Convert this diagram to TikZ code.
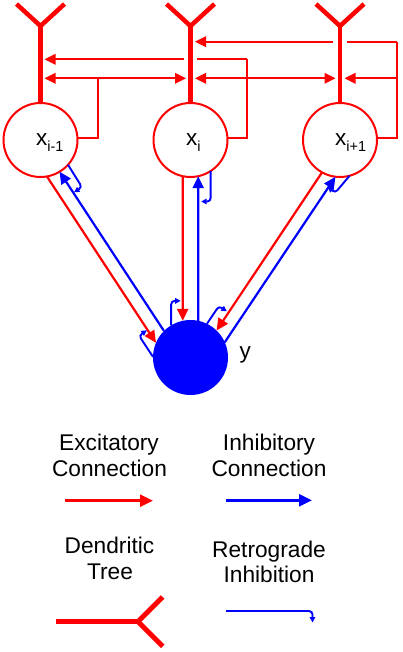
\documentclass[tikz,border=0pt]{standalone}
\usepackage{fontspec}
\setmainfont{Liberation Sans}
\usetikzlibrary{arrows.meta}
\tikzset{
  neuron/.style={circle, draw=red, line width=2pt, minimum size=74pt, inner sep=0pt, outer sep=0pt},
  ynode/.style={circle, fill=blue, minimum size=75pt, inner sep=0pt, outer sep=0pt},
  dendrite/.style={red, line width=4.5pt},
  fb/.style={red, line width=2pt},
  fbarrow/.style={fb, -{Triangle[length=11pt,width=10.5pt]}},
  exc/.style={red, line width=2.2pt, -{Triangle[length=12pt,width=11pt]}},
  inh/.style={blue, line width=2.2pt, -{Triangle[length=12pt,width=11pt]}},
  legexc/.style={red, line width=2.6pt, -{Triangle[length=13pt,width=12pt]}},
  leginh/.style={blue, line width=2.6pt, -{Triangle[length=13pt,width=12pt]}},
  retro/.style={blue, line width=1.9pt, -{Triangle[length=5.5pt,width=5.5pt]}},
  lbl/.style={font=\fontsize{22.7}{26}\selectfont, inner sep=0pt, anchor=base},
  nlbl/.style={font=\fontsize{22.5}{22}\selectfont, inner sep=0pt, anchor=base west},
}
\newcommand{\nsub}[1]{\raisebox{-6pt}{\fontsize{14.5}{14}\selectfont #1}}
\begin{document}
\begin{tikzpicture}[x=1pt,y=1pt]
\useasboundingbox (0,0) rectangle (402,-652);

% neurons
\node[neuron] (xa) at (40.5,-140) {};
\node[neuron] (xb) at (190.5,-140) {};
\node[neuron] (xc) at (340,-140) {};
\node[ynode] (y) at (190.5,-357.5) {};

\node[nlbl] (la) at (36,-146) {x\nsub{i-1}};
\node[nlbl] (lb) at (186,-146) {x\nsub{i}};
\node[nlbl] (lc) at (335,-146) {x\nsub{i+1}};
\node[nlbl] (ly) at (239.5,-358) {y};

% feedback coordinates
\coordinate (ja) at (98.3,-78.3);
\coordinate (jb) at (246.7,-59.3);
\coordinate (kb) at (246.7,-78.3);
\coordinate (jc) at (397.3,-41.7);
\coordinate (kc) at (397.3,-78.3);
\coordinate (aB) at (44.5,-59.3);
\coordinate (aC) at (44.5,-78.3);
\coordinate (bA) at (195,-41.7);
\coordinate (bCl) at (186,-78.3);
\coordinate (bCr) at (195,-78.3);
\coordinate (cCl) at (335.5,-78.3);
\coordinate (cCr) at (344.5,-78.3);
\coordinate (gb1) at (197,-59.3);
\coordinate (gb2) at (183.5,-59.3);
\coordinate (gc1) at (346.7,-41.7);
\coordinate (gc2) at (333.3,-41.7);

% x_{i-1} feedback
\draw[fb] (xa.3) -| (ja);
\draw[fbarrow] (ja) -- (aC);
\draw[fbarrow] (ja) -- (bCl);
% x_i feedback
\draw[fb] (xb.3) -| (jb);
\draw[fb] (jb) -- (gb1);
\draw[fbarrow] (gb2) -- (aB);
\draw[fbarrow] (kb) -- (bCr);
\draw[fbarrow] (kb) -- (cCl);
% x_{i+1} feedback
\draw[fb] (xc.3) -| (jc);
\draw[fb] (jc) -- (gc1);
\draw[fbarrow] (gc2) -- (bA);
\draw[fbarrow] (kc) -- (cCr);

% dendritic trees
\coordinate (fa) at (40.5,-26);
\coordinate (fb) at (190.5,-26);
\coordinate (fc) at (340,-26);
\draw[dendrite] (xa.north) -- (fa);
\draw[dendrite] (xb.north) -- (fb);
\draw[dendrite] (xc.north) -- (fc);
\draw[dendrite] (16.5,-4) -- (fa) -- (64.5,-4);
\draw[dendrite] (166.5,-4) -- (fb) -- (214.5,-4);
\draw[dendrite] (316,-4) -- (fc) -- (364,-4);

% connections to/from y
\draw[exc] (xa.-80.5) -- (y.157.8);
\draw[inh] (y.135) -- (xa.-59.6);
\draw[exc] (xb.-102.8) -- (y.102.6);
\draw[inh] (y.78.5) -- (xb.-78.3);
\draw[exc] (xc.-119.2) -- (y.46.4);
\draw[inh] (y.24.6) -- (xc.-97.5);

% retrograde inhibition hooks
\draw[retro] (xa.-42) -- ++(-58:23pt) arc[start angle=32, delta angle=-90, radius=3.5pt] -- ++(-148:6pt);
\draw[retro] (xb.-57) -- ++(-90:27pt) arc[start angle=0, delta angle=-90, radius=3.5pt] -- ++(180:6pt);
\draw[retro] (xc.-75) -- ++(-130:19pt) arc[start angle=-40, delta angle=-90, radius=3.5pt] -- ++(140:6pt);
\draw[retro] (y.179) -- ++(123.4:22pt) arc[start angle=213.4, delta angle=-90, radius=3.5pt] -- ++(33.4:6pt);
\draw[retro] (y.121) -- ++(90:21pt) arc[start angle=180, delta angle=-90, radius=3.5pt] -- ++(0:6pt);
\draw[retro] (y.64.6) -- ++(56:18pt) arc[start angle=146, delta angle=-90, radius=3.5pt] -- ++(-34:6pt);

% legend
\node[lbl] (t1) at (109,-450) {Excitatory};
\node[lbl] (t2) at (109.5,-476) {Connection};
\node[lbl] (t3) at (269,-450) {Inhibitory};
\node[lbl] (t4) at (269,-476) {Connection};
\node[lbl] (t5) at (109.5,-553) {Dendritic};
\node[lbl] (t6) at (110,-579) {Tree};
\node[lbl] (t7) at (269,-557) {Retrograde};
\node[lbl] (t8) at (269,-582) {Inhibition};

\coordinate (le1) at (65,-500.7);
\coordinate (le2) at (153,-500.7);
\coordinate (li1) at (226,-500.3);
\coordinate (li2) at (312,-500.3);
\draw[legexc] (le1) -- (le2);
\draw[leginh] (li1) -- (li2);

\coordinate (ld1) at (55.7,-621.7);
\coordinate (ld2) at (138,-621.7);
\draw[dendrite, line width=5pt] (ld1) -- (ld2);
\draw[dendrite, line width=5pt] (162.7,-597) -- (ld2) -- (162.7,-646.4);

\coordinate (lr1) at (226,-611);
\draw[retro] (lr1) -- ++(83pt,0) arc[start angle=90, delta angle=-90, radius=3.5pt] -- ++(-90:8pt);
\end{tikzpicture}
\end{document}
